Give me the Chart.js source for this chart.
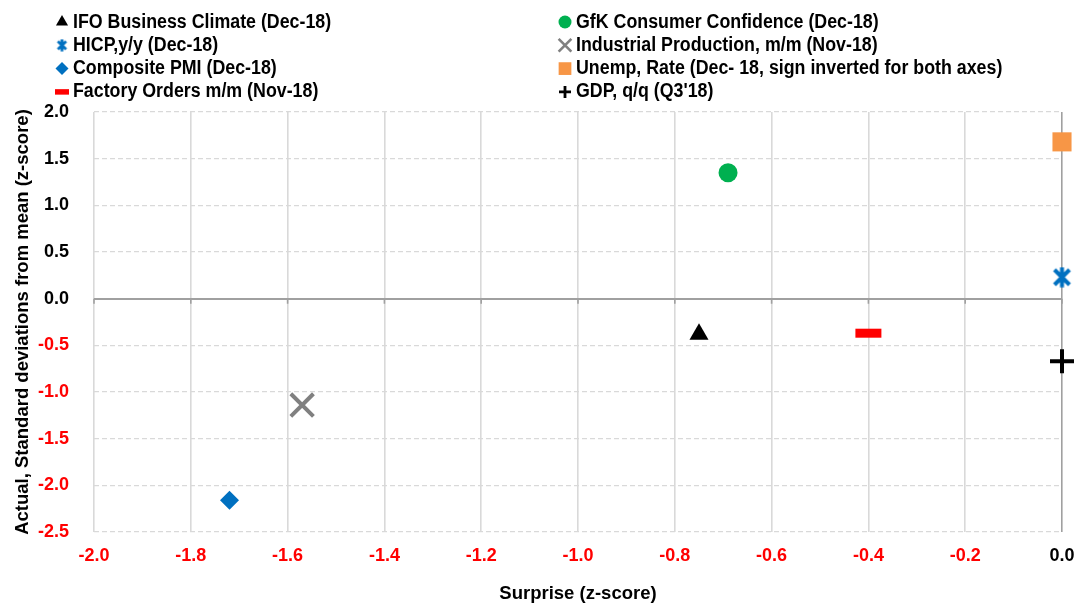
<!DOCTYPE html>
<html>
<head>
<meta charset="utf-8">
<script src="https://cdn.jsdelivr.net/npm/chart.js@4/dist/chart.umd.min.js"></script>
<style>
  html, body { margin: 0; padding: 0; background: #fff; }
  #wrap { width: 1075px; height: 605px; }
</style>
</head>
<body>
<div id="wrap"><canvas id="chart"></canvas></div>
<script>
// series names
const seriesNames = [
  'IFO Business Climate (Dec-18)',
  'GfK Consumer Confidence (Dec-18)',
  'HICP,y/y (Dec-18)',
  'Industrial Production, m/m (Nov-18)',
  'Composite PMI (Dec-18)',
  'Unemp, Rate (Dec- 18, sign inverted for both axes)',
  'Factory Orders m/m (Nov-18)',
  "GDP, q/q (Q3'18)"
];
// surprise (x) and actual (y), z-scores
const surprise = [-0.75, -0.69, 0.0, -1.57, -1.72, 0.0, -0.40, 0.0];
const actual   = [-0.38, 1.35, 0.23, -1.14, -2.16, 1.68, -0.37, -0.67];

const xMin = -2.0, xMax = 0.0, xStep = 0.2;
const yMin = -2.5, yMax = 2.0, yStep = 0.5;

const FONT = '"Liberation Sans", Arial, sans-serif';

// asterisk marker (X with vertical bar), drawn on a small canvas
function asterisk(size, lw, color) {
  const c = document.createElement('canvas');
  c.width = size; c.height = size;
  const g = c.getContext('2d');
  g.strokeStyle = color;
  g.lineWidth = lw;
  const m = lw / 2 + 1;
  g.beginPath();
  g.moveTo(m, m); g.lineTo(size - m, size - m);
  g.moveTo(size - m, m); g.lineTo(m, size - m);
  g.moveTo(size / 2, 0.5); g.lineTo(size / 2, size - 0.5);
  g.stroke();
  return c;
}

const markers = [
  { style: 'triangle', color: '#000000', r: 11, bw: 0, lr: 7, lbw: 0 },
  { style: 'circle',   color: '#00b050', r: 9.5, bw: 0, lr: 6.5, lbw: 0 },
  { style: asterisk(21, 4, '#0070c0'), legend: asterisk(13, 2.8, '#0070c0'), color: '#0070c0', r: 10, bw: 0, lr: 7, lbw: 0 },
  { style: 'crossRot', color: '#808080', r: 16, bw: 4, lr: 9, lbw: 2.6 },
  { style: 'rectRot',  color: '#0070c0', r: 9.5, bw: 0, lr: 6.5, lbw: 0 },
  { style: 'rect',     color: '#f79646', r: 13.5, bw: 0, lr: 9, lbw: 0 },
  { style: 'line',     color: '#ff0000', r: 13, bw: 9, lr: 7, lbw: 5.5 },
  { style: 'cross',    color: '#000000', r: 12, bw: 4, lr: 6, lbw: 2.8 }
];

const isZero = v => Math.abs(v) < 1e-9;
const fmt = v => (isZero(v) ? 0 : v).toFixed(1);

const datasets = seriesNames.map((name, i) => ({
  label: name,
  data: [{ x: surprise[i], y: actual[i] }],
  pointStyle: markers[i].style,
  pointRadius: markers[i].r,
  pointHoverRadius: markers[i].r,
  pointBackgroundColor: markers[i].color,
  pointBorderColor: markers[i].color,
  pointBorderWidth: markers[i].bw,
  showLine: false,
  clip: false
}));

// legend in two fixed columns like the original (text squeezed a bit, narrow font look)
const twoColLegend = {
  id: 'twoColLegend',
  afterDraw(chart) {
    const ctx = chart.ctx;
    ctx.save();
    ctx.font = 'bold 20px ' + FONT;
    ctx.textBaseline = 'middle';
    seriesNames.forEach((name, i) => {
      const col = i % 2, row = Math.floor(i / 2);
      const mx = col ? 565 : 62;
      const y = 22 + row * 23.3;
      const m = markers[i];
      ctx.fillStyle = m.color;
      ctx.strokeStyle = m.color;
      ctx.lineWidth = m.lbw;
      Chart.helpers.drawPoint(ctx, {
        pointStyle: m.legend || m.style, rotation: 0, radius: m.lr, borderWidth: m.lbw
      }, mx, y);
      ctx.save();
      ctx.translate(col ? 576 : 73, y);
      ctx.scale(0.89, 1);
      ctx.fillStyle = '#000';
      ctx.fillText(name, 0, 0);
      ctx.restore();
    });
    ctx.restore();
  }
};

// little tick marks hanging under the zero line, one per vertical gridline
const zeroTicks = {
  id: 'zeroTicks',
  beforeDatasetsDraw(chart) {
    const { ctx, scales: { x, y } } = chart;
    const y0 = y.getPixelForValue(0);
    ctx.save();
    ctx.strokeStyle = '#a0a0a0';
    ctx.lineWidth = 1.6;
    ctx.beginPath();
    x.ticks.forEach(t => {
      const px = x.getPixelForValue(t.value);
      ctx.moveTo(px, y0);
      ctx.lineTo(px, y0 + 5);
    });
    ctx.stroke();
    ctx.restore();
  }
};

new Chart(document.getElementById('chart'), {
  type: 'scatter',
  data: { datasets },
  plugins: [twoColLegend, zeroTicks],
  options: {
    responsive: true,
    maintainAspectRatio: false,
    animation: false,
    layout: { autoPadding: false, padding: { top: 112, right: 13, left: 0, bottom: 0 } },
    plugins: { legend: { display: false }, tooltip: { enabled: false } },
    scales: {
      x: {
        type: 'linear', min: xMin, max: xMax,
        ticks: {
          stepSize: xStep,
          padding: 13,
          color: c => c.tick.value < -1e-9 ? '#ff0000' : '#000000',
          font: { family: FONT, size: 18, weight: 'bold' },
          callback: v => fmt(v)
        },
        grid: {
          color: c => isZero(c.tick.value) ? '#a0a0a0' : '#d9d9d9',
          lineWidth: 1.6,
          drawTicks: false
        },
        border: { display: false },
        title: {
          display: true, text: 'Surprise (z-score)', color: '#000',
          font: { family: FONT, size: 18.5, weight: 'bold' },
          padding: { top: 10, bottom: 0 }
        },
        afterFit: s => { s.height = 73; s.paddingLeft = 0; s.paddingRight = 0; }
      },
      y: {
        type: 'linear', min: yMin, max: yMax,
        ticks: {
          stepSize: yStep,
          padding: 25,
          color: c => c.tick.value < -1e-9 ? '#ff0000' : '#000000',
          font: { family: FONT, size: 18, weight: 'bold' },
          callback: v => fmt(v)
        },
        grid: {
          color: c => isZero(c.tick.value) ? '#a0a0a0' : '#d9d9d9',
          lineWidth: c => isZero(c.tick.value) ? 2 : 1.3,
          drawTicks: false
        },
        border: { display: false, dash: c => isZero(c.tick.value) ? [] : [5, 3] },
        title: {
          display: true, text: 'Actual, Standard deviations from mean (z-score)', color: '#000',
          font: { family: FONT, size: 18.5, weight: 'bold' },
          padding: { top: 12, bottom: 0 }
        },
        afterFit: s => { s.width = 94; s.paddingTop = 0; s.paddingBottom = 0; }
      }
    }
  }
});
</script>
</body>
</html>
